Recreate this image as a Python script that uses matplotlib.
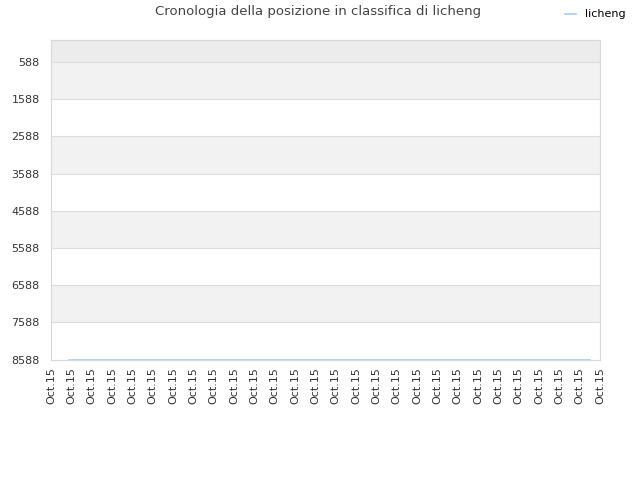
import matplotlib
matplotlib.use("Agg")
import matplotlib.pyplot as plt

title = "Cronologia della posizione in classifica di licheng"
series_name = "licheng"
x_tick_labels = ["Oct.15"] * 28
y_ticks = [588, 1588, 2588, 3588, 4588, 5588, 6588, 7588, 8588]
line_x = [0.9, 26.5]
line_y = [8588, 8588]

fig = plt.figure(figsize=(6.4, 4.8), dpi=100)
ax = fig.add_axes([51/640, 1-360/480, 549/640, 320/480])

ymin, ymax = -2, 8600
ax.set_ylim(ymax, ymin)
ax.set_xlim(0, len(x_tick_labels) - 1)

# bands
ax.axhspan(ymin, y_ticks[0], color="#ececec", zorder=0, lw=0)
for i in range(0, len(y_ticks) - 1, 2):
    ax.axhspan(y_ticks[i], y_ticks[i+1], color="#f2f2f2", zorder=0, lw=0)
for y in y_ticks[:-1]:
    ax.axhline(y, color="#dddddd", lw=0.8, zorder=1)

ax.plot(line_x, line_y, color="#a6cdf0", lw=1.2, label=series_name, zorder=3)

ax.set_yticks(y_ticks)
ax.set_yticklabels([str(v) for v in y_ticks], fontsize=8, color="#333333")
ax.set_xticks(range(len(x_tick_labels)))
ax.set_xticklabels(x_tick_labels, rotation=90, fontsize=8, color="#333333")
ax.tick_params(axis="both", length=0)
ax.tick_params(axis="y", pad=8)
ax.tick_params(axis="x", pad=5)
for s in ax.spines.values():
    s.set_color("#d8d8d8")
    s.set_linewidth(0.8)

fig.text(0.497, 0.975, title, ha="center", va="center", fontsize=9.5, color="#444444")
fig.legend(loc="center", bbox_to_anchor=(0.93, 0.97), frameon=False, fontsize=8,
           handlelength=1.0, handletextpad=0.8)

fig.savefig("out.png", dpi=100)
